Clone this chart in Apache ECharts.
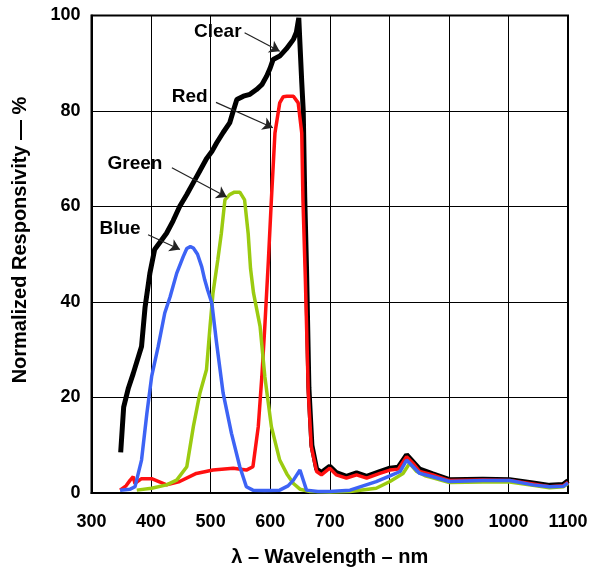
<!DOCTYPE html>
<html>
<head>
<meta charset="utf-8">
<script src="https://cdn.jsdelivr.net/npm/echarts@6/dist/echarts.min.js"></script>
<style>
html,body{margin:0;padding:0;background:#fff;}
#c{width:598px;height:567px;}
</style>
</head>
<body>
<div id="c"></div>
<script>
// ---- data ----
const xTicks = [300, 400, 500, 600, 700, 800, 900, 1000, 1100];
const yTicks = [0, 20, 40, 60, 80, 100];

const clearX = [349, 354, 362, 370, 384, 390, 398, 406, 415, 426, 437, 448, 460, 471, 482, 493, 502, 510, 521, 532, 538, 544, 555, 566, 577, 586, 594, 600, 605, 616, 627, 633, 639, 644, 648, 650, 653, 655.5, 658, 661, 665, 670, 678, 686, 700, 711, 728, 745, 762, 784, 801, 815, 829, 840, 851, 873, 901, 957, 1002, 1041, 1069, 1092, 1100];
const clearY = [8.5, 18, 22, 25, 30.7, 39, 46, 51, 52.5, 54.4, 57, 60, 62.5, 65, 67.5, 70, 71.5, 73.3, 75.5, 77.5, 80, 82.4, 83.1, 83.5, 84.5, 85.5, 87.3, 89, 90.8, 91.5, 93, 94, 95, 96.5, 99.5, 94, 86, 80, 62, 47, 22, 10, 5, 4.3, 5.6, 4.3, 3.5, 4.2, 3.5, 4.5, 5.2, 5.4, 8, 6.5, 5, 4, 2.8, 2.9, 2.8, 2.1, 1.6, 1.8, 2.6];

const redX = [348, 358, 365, 370, 373, 384, 401, 415, 426, 448, 476, 504, 538, 560, 571, 580, 586, 591, 597, 602, 608, 616, 622, 628, 639, 647, 653, 655, 659, 664, 669, 678, 686, 700, 711, 728, 745, 762, 784, 801, 815, 829, 840, 851, 873, 901, 957, 1002, 1041, 1069, 1092, 1100];
const redY = [0.6, 1.5, 2.7, 3.4, 2, 3, 3, 2.3, 1.7, 2.4, 4.1, 4.8, 5.2, 4.8, 5.5, 13.9, 24.4, 34.9, 48.8, 61.4, 75.4, 81.7, 83, 83.1, 83.1, 81.7, 75.4, 61.4, 45, 21, 9.7, 4.5, 3.8, 5.2, 3.8, 3.1, 3.8, 3.1, 4.1, 4.8, 5, 7.6, 6.2, 4.5, 3.8, 2.6, 2.7, 2.6, 1.9, 1.3, 1.5, 2.3];

const greenX = [376, 401, 426, 443, 460, 471, 482, 493, 499, 504, 512, 518, 524, 532, 540, 549, 557, 563, 567, 572, 583, 591, 602, 616, 628, 639, 650, 667, 700, 734, 778, 801, 823, 834, 846, 860, 873, 901, 957, 1002, 1041, 1069, 1092, 1100];
const greenY = [0.6, 1.0, 1.7, 2.7, 5.5, 13.9, 20.9, 25.8, 34.9, 41.9, 48.8, 54.4, 61.4, 62.5, 63, 63, 61.4, 54.4, 47, 41.9, 34.9, 24.4, 13.9, 6.9, 4, 2, 0.8, 0.3, 0.2, 0.3, 1.0, 2.4, 4.1, 6.2, 4.5, 3.6, 3.2, 2.2, 2.3, 2.3, 1.6, 1.1, 1.3, 2.0];

const blueX = [348, 365, 373, 384, 393, 401, 412, 423, 432, 443, 454, 460, 466, 471, 478, 485, 490, 495, 502, 510, 521, 535, 549, 560, 571, 590, 616, 630, 639, 650, 656, 661, 680, 700, 734, 778, 801, 818, 829, 840, 851, 873, 901, 957, 1002, 1041, 1069, 1092, 1100];
const blueY = [0.6, 0.8, 1.3, 6.9, 16.7, 24.4, 30.7, 37.7, 41.1, 46, 49.5, 51.2, 51.6, 51.3, 50, 47.4, 44.7, 42.5, 39.8, 31.4, 20.9, 12.5, 5.5, 1.3, 0.6, 0.5, 0.6, 1.5, 2.7, 4.8, 2.5, 0.6, 0.3, 0.3, 0.6, 2.4, 3.6, 4.5, 6.9, 5.5, 4.1, 3.4, 2.4, 2.6, 2.6, 1.7, 1.3, 1.4, 2.1];

// annotation labels (data coords): text position, arrow start, arrow tip
const annNames = ['Clear', 'Red', 'Green', 'Blue'];
const annText = [[512, 96.6], [465, 83], [373, 69], [348, 55.3]];
const annFrom = [[557, 96.4], [509, 81.8], [435, 68.1], [395, 54.1]];
const annTo = [[616, 92.5], [604.5, 76.5], [527, 62], [448.5, 51]];

const xTitle = 'λ – Wavelength – nm';
const yTitle = 'Normalized Responsivity — %';

// ---- chart ----
const zip = (xs, ys) => xs.map((x, i) => [x, ys[i]]);
const chart = echarts.init(document.getElementById('c'), null, {renderer: 'canvas'});
const font = "'Liberation Sans', Arial, Helvetica, sans-serif";

const option = {
  animation: false,
  backgroundColor: '#fff',
  grid: {left: 91.5, right: 30, top: 15.5, bottom: 74, show: true, borderColor: '#000', borderWidth: 2,
         backgroundColor: 'transparent', containLabel: false, outerBoundsMode: 'none'},
  xAxis: {
    type: 'value', min: xTicks[0], max: xTicks[xTicks.length - 1], interval: 100,
    axisLine: {show: true, lineStyle: {color: '#000', width: 2}},
    axisTick: {show: false},
    splitLine: {show: true, lineStyle: {color: '#000', width: 1}},
    axisLabel: {color: '#000', fontFamily: font, fontWeight: 'bold', fontSize: 18, margin: 20, formatter: v => String(v)},
    name: xTitle, nameLocation: 'middle', nameGap: 54,
    nameTextStyle: {color: '#000', fontFamily: font, fontWeight: 'bold', fontSize: 20}
  },
  yAxis: {
    type: 'value', min: yTicks[0], max: yTicks[yTicks.length - 1], interval: 20,
    axisLine: {show: true, lineStyle: {color: '#000', width: 2}},
    axisTick: {show: false},
    splitLine: {show: true, lineStyle: {color: '#000', width: 1}},
    axisLabel: {color: '#000', fontFamily: font, fontWeight: 'bold', fontSize: 18, margin: 11, formatter: v => String(v)}
  },
  series: [
    {name: 'Clear', type: 'line', data: zip(clearX, clearY), showSymbol: false, smooth: false,
     lineStyle: {color: '#000', width: 5}, z: 2,
     markLine: {
       silent: true, animation: false,
       symbol: ['none', 'arrow'], symbolSize: 10,
       lineStyle: {color: '#222', width: 1.2, type: 'solid'},
       label: {show: false},
       data: annFrom.map((f, i) => [{coord: f}, {coord: annTo[i]}])
     }},
    {name: 'Red', type: 'line', data: zip(redX, redY), showSymbol: false,
     lineStyle: {color: '#ff1010', width: 3.5}, z: 3},
    {name: 'Green', type: 'line', data: zip(greenX, greenY), showSymbol: false,
     lineStyle: {color: '#9bcb10', width: 3.5}, z: 3},
    {name: 'Blue', type: 'line', data: zip(blueX, blueY), showSymbol: false,
     lineStyle: {color: '#3d63f5', width: 3.5}, z: 4}
  ]
};
chart.setOption(option);

const graphics = annNames.map((t, i) => {
  const p = chart.convertToPixel({gridIndex: 0}, annText[i]);
  return {
    type: 'text', x: p[0], y: p[1], z: 100,
    style: {text: t, fill: '#000', font: 'bold 19px ' + font, align: 'center', verticalAlign: 'middle',
            backgroundColor: t === 'Blue' ? '#fff' : undefined, padding: t === 'Blue' ? [1, 3] : 0}
  };
});
graphics.push({
  type: 'text', x: 20, y: 240, rotation: Math.PI / 2, z: 100,
  style: {text: yTitle, fill: '#000', font: 'bold 20px ' + font, align: 'center', verticalAlign: 'middle'}
});
chart.setOption({graphic: graphics});
</script>
</body>
</html>
